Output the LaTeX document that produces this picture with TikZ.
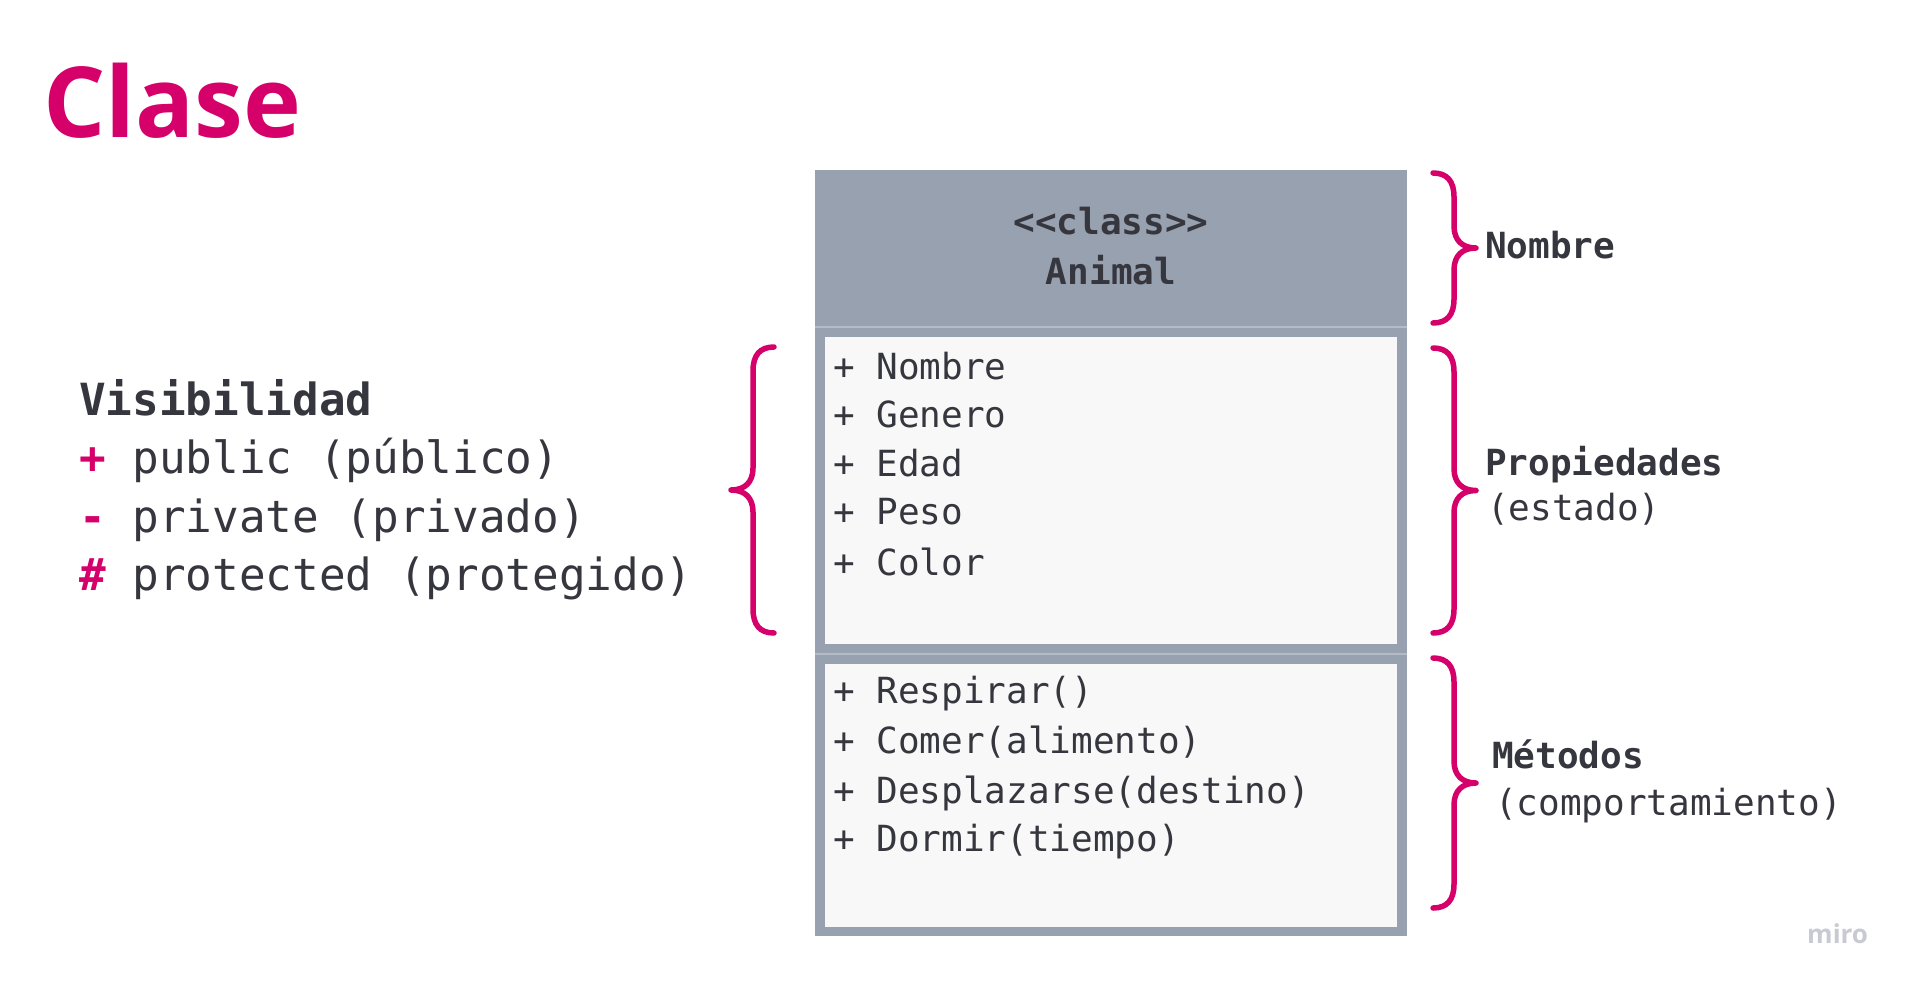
\documentclass[tikz,border=0pt]{standalone}
\usepackage{fontspec}
\setmainfont{Open Sans}
\newfontfamily\monoR{DejaVu Sans Mono}
\definecolor{brandpink}{HTML}{D5006A}
\definecolor{ink}{HTML}{36363E}
\definecolor{boxgray}{HTML}{98A1AF}
\definecolor{sepgray}{HTML}{B4BBC6}
\definecolor{paper}{HTML}{F8F8F8}
\definecolor{logogray}{HTML}{C9C9D3}
\tikzset{
  txt/.style={anchor=base west, inner sep=0pt, text=ink},
  boxtxt/.style={txt, font=\monoR\fontsize{36}{40}\selectfont},
  headtxt/.style={anchor=base, inner sep=0pt, text=ink, font=\monoR\bfseries\fontsize{36}{40}\selectfont},
  vistxt/.style={txt, font=\monoR\fontsize{44.3}{50}\selectfont},
  lbltxt/.style={txt, font=\monoR\fontsize{36}{40}\selectfont},
  lblbold/.style={txt, font=\monoR\bfseries\fontsize{36}{40}\selectfont},
  bracestyle/.style={draw=brandpink, line width=5.5pt, line cap=round, line join=round},
  sepline/.style={draw=sepgray, line width=2pt},
}
% #1 tip x, #2 top y, #3 bottom y, #4 direction (1 = right, -1 = left)
\newcommand\MyBrace[4]{%
  \pgfmathsetmacro\bm{(#2+#3)/2}%
  \draw[bracestyle] (#1,#2)
    .. controls ({#1+#4*14},#2) and ({#1+#4*21},{#2+8}) .. ({#1+#4*21},{#2+24})
    -- ({#1+#4*21},{\bm-22})
    .. controls ({#1+#4*21},{\bm-8}) and ({#1+#4*29},\bm) .. ({#1+#4*43},\bm)
    .. controls ({#1+#4*29},\bm) and ({#1+#4*21},{\bm+8}) .. ({#1+#4*21},{\bm+22})
    -- ({#1+#4*21},{#3-24})
    .. controls ({#1+#4*21},{#3-8}) and ({#1+#4*14},#3) .. (#1,#3);%
}
\begin{document}
\begin{tikzpicture}[x=1pt,y=-1pt]
\useasboundingbox[fill=white] (0,0) rectangle (1912,988);

% title
\node[anchor=base west, inner sep=0pt, text=brandpink, font=\bfseries\fontsize{98}{104}\selectfont] (title) at (43,137) {Clase};

% visibility legend
\node[vistxt, font=\monoR\bfseries\fontsize{44.3}{50}\selectfont] (vis) at (79,415) {Visibilidad};
\node[vistxt] (vpub) at (79,473) {{\color{brandpink}\bfseries+} public (público)};
\node[vistxt] (vpriv) at (79,532) {{\color{brandpink}\bfseries-} private (privado)};
\node[vistxt] (vprot) at (79,590) {{\color{brandpink}\bfseries\#} protected (protegido)};

% class box
\fill[boxgray] (815,170) rectangle (1407,936);
\draw[sepline] (815,327) -- (1407,327);
\draw[sepline] (815,654) -- (1407,654);
\fill[paper] (825,337) rectangle (1397,644);
\fill[paper] (825,664) rectangle (1397,927);

\node[headtxt] (stereo) at (1111,234) {<<class>>};
\node[headtxt] (cname) at (1111,284) {Animal};

\node[boxtxt] (p1) at (833,379) {+ Nombre};
\node[boxtxt] (p2) at (833,427) {+ Genero};
\node[boxtxt] (p3) at (833,476) {+ Edad};
\node[boxtxt] (p4) at (833,524) {+ Peso};
\node[boxtxt] (p5) at (833,575) {+ Color};

\node[boxtxt] (m1) at (833,703) {+ Respirar()};
\node[boxtxt] (m2) at (833,753) {+ Comer(alimento)};
\node[boxtxt] (m3) at (833,803) {+ Desplazarse(destino)};
\node[boxtxt] (m4) at (833,851) {+ Dormir(tiempo)};

% braces
\MyBrace{774}{347}{633}{-1}
\MyBrace{1433}{173}{323}{1}
\MyBrace{1433}{348}{633}{1}
\MyBrace{1433}{658}{908}{1}

% right labels
\node[lblbold] (lname) at (1485,258) {Nombre};
\node[lblbold] (lprop) at (1485,475) {Propiedades};
\node[lbltxt] (lstate) at (1487,520) {(estado)};
\node[lblbold] (lmeth) at (1492,768) {Métodos};
\node[lbltxt] (lbeh) at (1495,815) {(comportamiento)};

% logo
\node[anchor=base west, inner sep=0pt, text=logogray, font=\bfseries\fontsize{26}{30}\selectfont] (logo) at (1807,943) {miro};
\end{tikzpicture}
\end{document}
